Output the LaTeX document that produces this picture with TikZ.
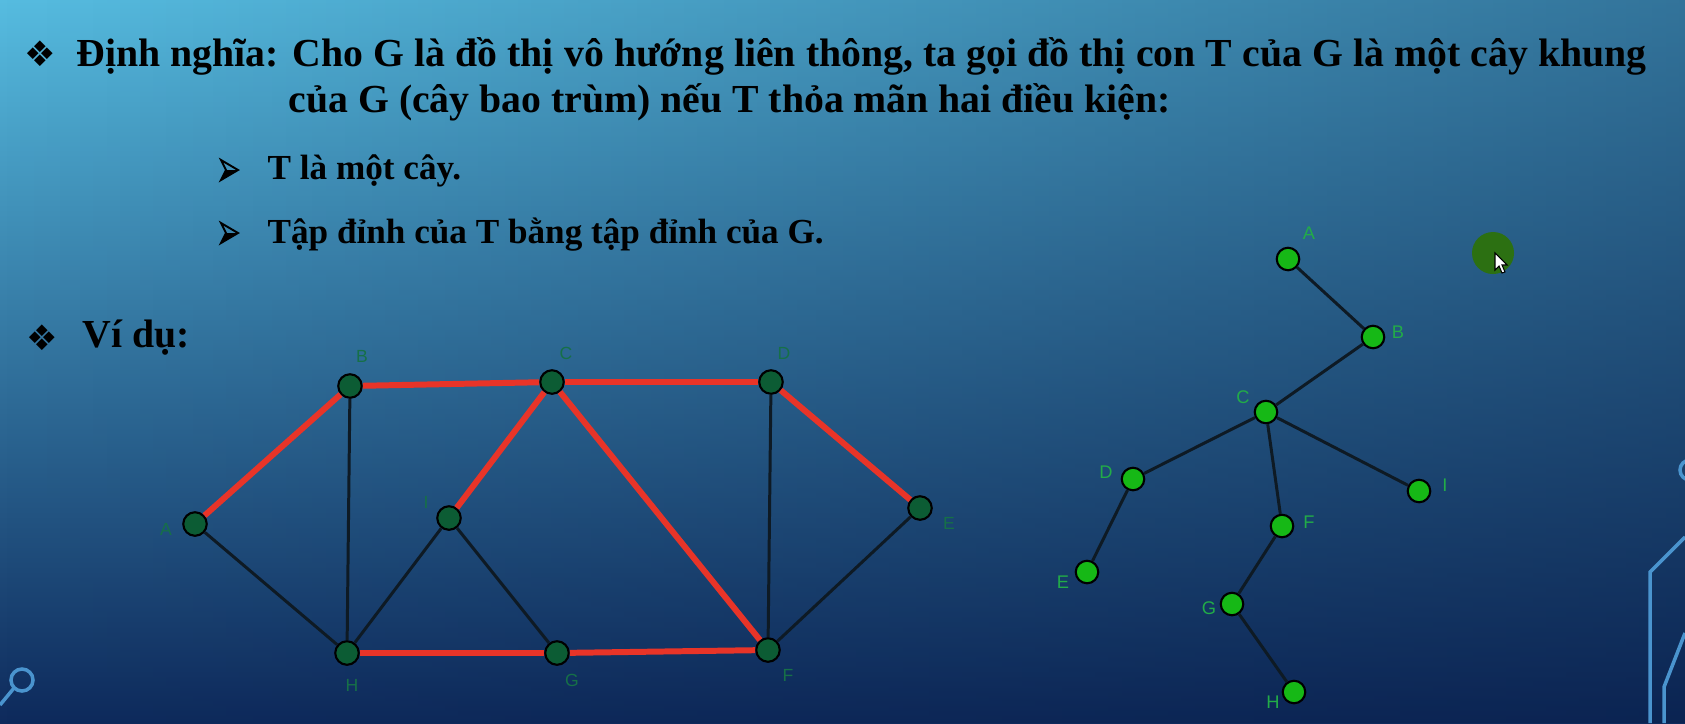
\documentclass[tikz,border=0pt]{standalone}
\usepackage{fontspec}
\setmainfont{Liberation Serif}
\newfontfamily\symbolfont{DejaVu Sans}
\newfontfamily\geofont{Liberation Sans}
\usetikzlibrary{fadings}
\definecolor{bgtop}{RGB}{86,188,224}
\definecolor{bgmid}{RGB}{46,136,186}
\definecolor{bgbot}{RGB}{14,42,92}
\definecolor{bgdark}{RGB}{8,28,70}
\definecolor{nodegreen}{RGB}{12,92,52}
\definecolor{treegreen}{RGB}{22,184,22}
\definecolor{lblgreen}{RGB}{22,112,72}
\definecolor{treelbl}{RGB}{34,172,72}
\definecolor{edgered}{RGB}{232,52,40}
\definecolor{edgeblack}{RGB}{14,26,36}
\definecolor{decoblue}{RGB}{74,148,206}
\definecolor{blobgreen}{RGB}{44,112,18}

% 3D arrowhead bullet
\newcommand{\arrowbullet}[1]{%
  \begin{scope}[shift={#1}]
    \fill[black] (-3,0) -- (9,0) -- (-8,10) -- cycle;
    \draw[line width=0.55pt, line join=miter] (-8,-10) -- (9,0) -- (-8,10) -- (-3,0) -- cycle;
  \end{scope}}

\begin{document}
\begin{tikzpicture}[x=0.01cm, y=-0.01cm,
  vertexdark/.style={circle, draw=black, line width=0.6pt, fill=nodegreen, minimum size=0.235cm, inner sep=0pt},
  vertexlight/.style={circle, draw=black, line width=0.6pt, fill=treegreen, minimum size=0.225cm, inner sep=0pt},
  redge/.style={line width=1.7pt, color=edgered},
  bedge/.style={line width=0.85pt, color=edgeblack},
  lbl/.style={font=\geofont\fontsize{5}{6}\selectfont, text=lblgreen, inner sep=0pt},
  treelabel/.style={font=\geofont\fontsize{5.2}{6}\selectfont, text=treelbl, inner sep=0pt},
  slidetext/.style={anchor=base west, inner sep=0pt, font=\bfseries\fontsize{11.3}{13}\selectfont},
  subtext/.style={anchor=base west, inner sep=0pt, font=\bfseries\fontsize{10}{12}\selectfont},
  bulletsym/.style={inner sep=0pt, font=\symbolfont\fontsize{10}{11}\selectfont},
  decoline/.style={line width=1pt, color=decoblue}
]

% Background
\useasboundingbox (0,0) rectangle (1685,723);
\shade[top color=bgtop, middle color=bgmid, bottom color=bgbot] (0,0) rectangle (1685,723);
\fill[bgdark, path fading=west, opacity=0.45] (0,0) rectangle (1685,723);

% Decorations
\draw[decoline] (22,680) circle (0.11cm);
\draw[decoline] (14,688) -- (0,705);
\draw[decoline] (1690,470) circle (0.1cm);
\draw[decoline] (1685,537) -- (1650,572) -- (1650,723);
\draw[decoline] (1685,633) -- (1664,687) -- (1664,723);

% Definition text
\node[bulletsym] (b1) at (40,54) {❖};
\node[slidetext] (def) at (76,66) {\makebox[15.69cm][s]{Định nghĩa: Cho G là đồ thị vô hướng liên thông, ta gọi đồ thị con T của G là một cây khung}};
\node[slidetext] (def2) at (288,112) {của G (cây bao trùm) nếu T thỏa mãn hai điều kiện:};
\arrowbullet{(229,170)}
\node[subtext] (cond1) at (267,179) {T là một cây.};
\arrowbullet{(229,233)}
\node[subtext] (cond2) at (267,243) {Tập đỉnh của T bằng tập đỉnh của G.};
\node[bulletsym] (b4) at (42,338) {❖};
\node[slidetext] (vidu) at (82,347) {Ví dụ:};

% Graph G
\node[vertexdark] (A) at (195,524) {};
\node[vertexdark] (B) at (350,386) {};
\node[vertexdark] (C) at (552,382) {};
\node[vertexdark] (D) at (771,382) {};
\node[vertexdark] (E) at (920,508) {};
\node[vertexdark] (F) at (768,650) {};
\node[vertexdark] (G) at (557,653) {};
\node[vertexdark] (H) at (347,653) {};
\node[vertexdark] (I) at (449,518) {};

\node[lbl] (lA) at (166,529) {A};
\node[lbl] (lB) at (362,356) {B};
\node[lbl] (lC) at (566,353) {C};
\node[lbl] (lD) at (784,353) {D};
\node[lbl] (lE) at (949,523) {E};
\node[lbl] (lF) at (788,675) {F};
\node[lbl] (lG) at (572,680) {G};
\node[lbl] (lH) at (352,685) {H};
\node[lbl] (lI) at (426,502) {I};

% Spanning tree edges (red)
\draw[redge] (A) -- (B);
\draw[redge] (B) -- (C);
\draw[redge] (C) -- (D);
\draw[redge] (C) -- (I);
\draw[redge] (C) -- (F);
\draw[redge] (D) -- (E);
\draw[redge] (H) -- (G);
\draw[redge] (G) -- (F);

% Other edges
\draw[bedge] (A) -- (H);
\draw[bedge] (B) -- (H);
\draw[bedge] (H) -- (I);
\draw[bedge] (I) -- (G);
\draw[bedge] (D) -- (F);
\draw[bedge] (F) -- (E);

% Spanning tree T
\node[vertexlight] (tA) at (1288,259) {};
\node[vertexlight] (tB) at (1373,337) {};
\node[vertexlight] (tC) at (1266,412) {};
\node[vertexlight] (tD) at (1133,479) {};
\node[vertexlight] (tE) at (1087,572) {};
\node[vertexlight] (tF) at (1282,526) {};
\node[vertexlight] (tG) at (1232,604) {};
\node[vertexlight] (tH) at (1294,692) {};
\node[vertexlight] (tI) at (1419,491) {};

\node[treelabel] (ltA) at (1309,233) {A};
\node[treelabel] (ltB) at (1398,332) {B};
\node[treelabel] (ltC) at (1243,397) {C};
\node[treelabel] (ltD) at (1106,472) {D};
\node[treelabel] (ltE) at (1063,582) {E};
\node[treelabel] (ltF) at (1309,522) {F};
\node[treelabel] (ltG) at (1209,608) {G};
\node[treelabel] (ltH) at (1273,702) {H};
\node[treelabel] (ltI) at (1445,485) {I};

\draw[bedge] (tA) -- (tB);
\draw[bedge] (tB) -- (tC);
\draw[bedge] (tC) -- (tD);
\draw[bedge] (tC) -- (tF);
\draw[bedge] (tC) -- (tI);
\draw[bedge] (tD) -- (tE);
\draw[bedge] (tF) -- (tG);
\draw[bedge] (tG) -- (tH);

% Pointer
\fill[blobgreen] (1493,253) circle (0.21cm);
\draw[fill=white, line width=0.3pt] (1495,253) -- (1495,270) -- (1499,266) -- (1502,273) -- (1505,272) -- (1502,265) -- (1507,265) -- cycle;

\end{tikzpicture}
\end{document}
